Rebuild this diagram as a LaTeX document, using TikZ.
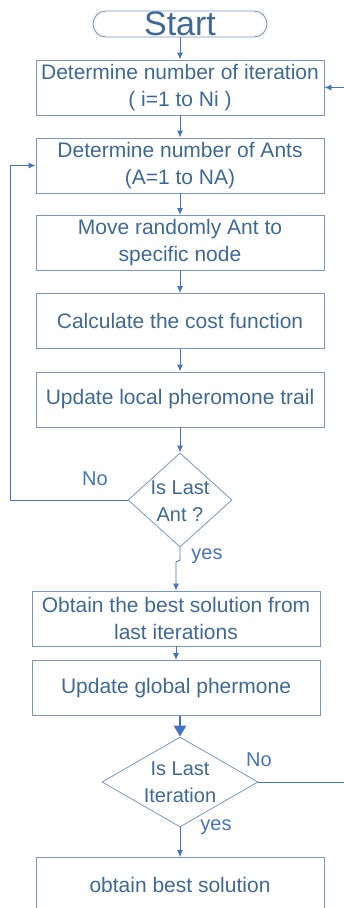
\documentclass[tikz,border=0pt]{standalone}
\usepackage{fontspec}
\setmainfont{Liberation Sans}
\usetikzlibrary{arrows.meta,shapes.geometric}
\definecolor{txtblue}{RGB}{62,104,150}
\definecolor{edgeblue}{RGB}{120,150,192}
\definecolor{linkblue}{RGB}{68,114,196}
\tikzset{
  stepbox/.style={draw=edgeblue, line width=0.9pt, minimum width=288pt, minimum height=55pt,
    inner sep=0pt, align=center, text=txtblue, font=\fontsize{21}{27}\selectfont},
  decision/.style={draw=edgeblue, line width=0.8pt, diamond, inner sep=0pt},
  dtext/.style={align=center, inner sep=0pt, text=txtblue, font=\fontsize{20}{27}\selectfont},
  link/.style={draw=linkblue, line width=0.9pt, -{Latex[length=7pt,width=6pt]}},
  lbl/.style={text=linkblue, font=\fontsize{20}{22}\selectfont, inner sep=0pt}
}
\begin{document}
\begin{tikzpicture}[x=1pt,y=-1pt]
\useasboundingbox (0,0) rectangle (344,908);

% terminal
\node[draw=edgeblue, line width=0.9pt, rounded corners=13pt, minimum width=174pt, minimum height=26pt,
  inner sep=0pt, text=txtblue, font=\fontsize{34}{34}\selectfont] (start) at (180,24) {Start};

% process boxes
\node[stepbox] (iter) at (180,87.5) {Determine number of iteration\\( i=1 to Ni )};
\node[stepbox] (ants) at (180,165.5) {Determine number of Ants\\(A=1 to NA)};
\node[stepbox] (move) at (180,243) {Move randomly Ant to\\specific  node};
\node[stepbox] (cost) at (180,321) {Calculate the cost function};
\node[stepbox] (local) at (180,399.5) {Update local pheromone trail};

% decision: last ant
\node[decision, minimum width=104pt, minimum height=94pt] (lastant) at (180,500) {};
\node[dtext] (lastanttxt) at (180,501) {Is Last\\Ant ?};

\node[stepbox] (best) at (176,618.5) {Obtain the best solution from\\last  iterations};
\node[stepbox] (global) at (176,688) {Update global phermone};

% decision: last iteration
\node[decision, minimum width=156pt, minimum height=90pt] (lastit) at (180,782) {};
\node[dtext] (lastittxt) at (180,782) {Is Last\\Iteration};

\node[stepbox] (final) at (180,885) {obtain best solution};

% helper points
\coordinate (jog) at (180,560);
\coordinate (loopL) at (10,500);
\coordinate (loopLt) at (10,165.5);
\coordinate (loopR) at (352,782);
\coordinate (loopRt) at (352,87.5);

% connectors
\draw[link] (start) -- (iter);
\draw[link] (iter) -- (ants);
\draw[link] (ants) -- (move);
\draw[link] (move) -- (cost);
\draw[link] (cost) -- (local);
\draw[link] (local) -- (lastant);
\draw[link] (lastant.south) -- (jog) -- ++(-4,2) -- (best.north);
\draw[link] (best) -- (global);
\draw[draw=linkblue, line width=2.6pt, -{Triangle[length=11pt,width=12pt]}]
  (global.south -| lastit.north) -- (lastit.north);
\draw[link] (lastit) -- (final);
\draw[link] (lastant.west) -- (loopL) -- (loopLt) -- (ants.west);
\draw[link] (lastit.east) -- (loopR) -- (loopRt) -- (iter.east);

% branch labels
\node[lbl] (no1) at (95,479) {No};
\node[lbl] (yes1) at (207,556) {yes};
\node[lbl] (no2) at (259,760) {No};
\node[lbl] (yes2) at (216,827) {yes};
\end{tikzpicture}
\end{document}
